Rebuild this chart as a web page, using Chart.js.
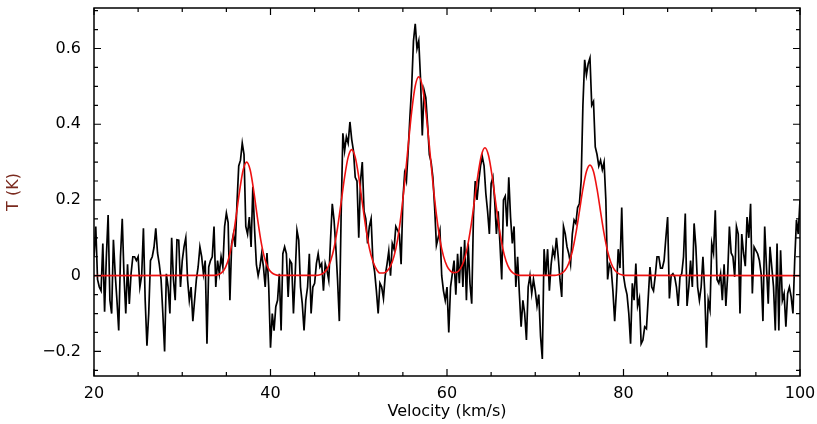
<!DOCTYPE html>
<html>
<head>
<meta charset="utf-8">
<script src="https://cdn.jsdelivr.net/npm/chart.js@4.4.1/dist/chart.umd.min.js"></script>
<style>
  html, body { margin: 0; padding: 0; background: #fff; }
  #wrap { width: 817px; height: 424px; }
</style>
</head>
<body>
<div id="wrap"><canvas id="spec" width="817" height="424"></canvas></div>
<script>
// spectrum channels: velocity of first channel and channel width (km/s)
const v0 = 20;
const dv = 0.2;

// observed brightness temperature per channel (K)
const tSpec = [
  0.05, 0.13, -0.01, -0.03, -0.04, 0.085, -0.095, 0.05, 0.16, -0.065,
  -0.1, 0.095, 0.005, -0.065, -0.145, 0.05, 0.15, 0.0, -0.1, 0.03,
  -0.075, 0.005, 0.05, 0.05, 0.04, 0.05, -0.03, 0.0, 0.125, -0.065,
  -0.185, -0.1, 0.04, 0.05, 0.075, 0.125, 0.06, 0.03, -0.01, -0.1,
  -0.2, 0.005, -0.03, -0.1, 0.1, -0.01, -0.065, 0.095,
  0.094, -0.03, 0.04, 0.076, 0.10, -0.01, -0.065, -0.03, -0.12, -0.065,
  -0.01, 0.023, 0.076, 0.05, 0.005, 0.04, -0.18, 0.023, 0.04, 0.05,
  0.13, -0.03, 0.04, 0.005, 0.05, 0.023, 0.13, 0.165, 0.14, -0.065,
  0.085, 0.11, 0.076, 0.19, 0.29, 0.305, 0.35, 0.32, 0.13, 0.11,
  0.155, 0.076, 0.235, 0.12, 0.03, 0.0, 0.023, 0.058, 0.023, -0.03,
  0.06, -0.03, -0.19, -0.1, -0.145, -0.082, -0.065, 0.005, -0.145, 0.058,
  0.076, 0.058, -0.056, 0.04, 0.032, -0.1, 0.005, 0.12, 0.094, -0.03,
  -0.074, -0.145, -0.065, -0.03, 0.058, -0.1, -0.03, -0.02, 0.032, 0.058,
  0.023, 0.032, -0.04, 0.032, 0.014, -0.012, 0.094, 0.19, 0.147, 0.076,
  -0.012, -0.12, 0.155, 0.376, 0.33, 0.367, 0.35, 0.406, 0.36, 0.33, 0.26,
  0.25, 0.10, 0.25, 0.30, 0.17, 0.15, 0.085, 0.13, 0.15, 0.04,
  0.01, -0.04, -0.10, -0.02, -0.03, -0.06, 0.0, 0.03, 0.065, 0.0,
  0.085, 0.07, 0.13, 0.12, 0.11, 0.03, 0.2, 0.27, 0.25, 0.33,
  0.42, 0.50, 0.62, 0.665, 0.60, 0.62, 0.52, 0.37, 0.49, 0.47,
  0.40, 0.32, 0.30, 0.26, 0.18, 0.08, 0.10, 0.12, 0.0, -0.04,
  -0.065, -0.03, -0.15, -0.03, 0.005, 0.04, -0.05, 0.058, -0.02, 0.076,
  -0.03, 0.094, -0.065, 0.085, -0.02, -0.074, 0.16, 0.25, 0.20, 0.25,
  0.29, 0.314, 0.29, 0.217, 0.17, 0.11, 0.243, 0.26, 0.2, 0.11,
  0.17, 0.085, -0.01, 0.2, 0.21, 0.13, 0.26, 0.155, 0.085, 0.13,
  -0.03, 0.05, -0.047, -0.135, -0.065, -0.1, -0.17, -0.03, 0.0, -0.047,
  -0.01, -0.04, -0.08, -0.05, -0.16, -0.22, 0.07, 0.0, 0.07, -0.04,
  0.03, 0.07, 0.05, 0.1, 0.05, -0.01, -0.056, 0.13, 0.11, 0.076,
  0.058, 0.03, 0.11, 0.147, 0.138, 0.18, 0.19, 0.25, 0.45, 0.57,
  0.53, 0.56, 0.575, 0.45, 0.46, 0.34, 0.32, 0.29, 0.305, 0.28,
  0.30, 0.2, -0.01, 0.03, 0.02, -0.04, -0.12, -0.04, 0.07, 0.02,
  0.18, 0.0, -0.03, -0.05, -0.1, -0.18, -0.02, -0.065, 0.032, -0.08,
  -0.06, -0.18, -0.17, -0.135, -0.14, -0.06, 0.023, -0.03, -0.04, 0.0,
  0.05, 0.05, 0.02, 0.02, 0.04, 0.1, 0.155, -0.06, 0.0, 0.005,
  -0.003, -0.03, -0.08, -0.003, 0.005, 0.05, 0.164, -0.08, -0.03, 0.04,
  -0.03, 0.138, 0.076, -0.03, -0.065, -0.03, 0.05, -0.04, -0.19, -0.065,
  -0.09, 0.085, 0.06, 0.173, -0.01, -0.02, 0.005, -0.065, 0.03, -0.08,
  0.0, 0.13, 0.06, 0.05, -0.003, 0.13, 0.11, -0.1, 0.11, 0.06,
  0.025, 0.155, 0.1, 0.19, -0.047, 0.076, 0.067, 0.058, 0.04, 0.005,
  -0.12, 0.13, 0.023, -0.074, 0.076, 0.023, -0.03, -0.145, 0.085, -0.145,
  0.067, -0.065, -0.047, -0.135, -0.047, -0.03, -0.056, -0.1, 0.04, 0.147,
  0.11, 0.2
];

// gaussian fit (red)
const fitV = [
  20, 33.7, 34.1, 34.5, 34.9, 35.3, 35.7, 36.1, 36.5, 36.9, 37.3, 37.7, 38.1, 38.5, 38.9, 39.3, 39.7, 40.1, 40.5, 40.9,
  45.2, 45.6, 46.0, 46.4, 46.8, 47.2, 47.6, 48.0, 48.4, 48.8, 49.2, 49.6, 50.0, 50.4, 50.8, 51.2, 51.6, 52.0, 52.4,
  52.8, 53.2, 53.6, 54.0, 54.4, 54.8, 55.2, 55.6, 56.0, 56.4, 56.8, 57.2, 57.6, 58.0, 58.4, 58.8, 59.2, 59.6, 60.0, 60.4,
  60.7, 61.1, 61.5, 61.9, 62.3, 62.7, 63.1, 63.5, 63.9, 64.3, 64.7, 65.1, 65.5, 65.9, 66.3, 66.7, 67.1, 67.5, 67.9, 68.3,
  72.2, 72.6, 73.0, 73.4, 73.8, 74.2, 74.6, 75.0, 75.4, 75.8, 76.2, 76.6, 77.0, 77.4, 77.8, 78.2, 78.6, 79.0, 79.4, 79.8, 80.2,
  100
];
const fitT = [
  0, 0.0008, 0.0029, 0.0086, 0.022, 0.049, 0.094, 0.156, 0.224, 0.279, 0.300, 0.279, 0.224, 0.156, 0.094, 0.049, 0.022, 0.0086, 0.0029, 0.0008,
  0.0008, 0.0025, 0.0069, 0.017, 0.038, 0.073, 0.127, 0.193, 0.261, 0.313, 0.333, 0.313, 0.261, 0.193, 0.127, 0.073, 0.038, 0.017, 0.0069,
  0.007, 0.012, 0.0254, 0.0516, 0.0955, 0.161, 0.246, 0.343, 0.434, 0.501, 0.525, 0.501, 0.434, 0.343, 0.246, 0.161, 0.0955, 0.0516, 0.0254, 0.012,
  0.008, 0.009, 0.018, 0.038, 0.074, 0.128, 0.196, 0.265, 0.318, 0.338, 0.318, 0.265, 0.196, 0.128, 0.074, 0.038, 0.017, 0.007, 0.0025, 0.0008,
  0.0007, 0.0022, 0.0061, 0.015, 0.033, 0.064, 0.111, 0.169, 0.229, 0.275, 0.292, 0.275, 0.229, 0.169, 0.111, 0.064, 0.033, 0.015, 0.0061, 0.0022, 0.0007,
  0
];

const xTicks = [20, 40, 60, 80, 100];
const yTicks = [-0.2, 0, 0.2, 0.4, 0.6];
const yTickLabels = ['\u22120.2', '0', '0.2', '0.4', '0.6'];

const specPoints = tSpec.map((t, i) => ({ x: v0 + i * dv, y: t }));
const fitPoints = fitV.map((v, i) => ({ x: v, y: fitT[i] }));

// box round the plot with inward ticks on all four sides
const framePlugin = {
  id: 'frame',
  afterDraw(chart) {
    const { ctx, chartArea: a, scales: { x, y } } = chart;
    ctx.save();
    ctx.strokeStyle = '#000';
    ctx.lineWidth = 1.5;
    ctx.strokeRect(a.left, a.top, a.right - a.left, a.bottom - a.top);
    ctx.beginPath();
    for (let k = 4; k <= 20; k++) {
      const px = x.getPixelForValue(k * 5);
      const len = k % 4 === 0 ? 7 : 4;
      ctx.moveTo(px, a.bottom); ctx.lineTo(px, a.bottom - len);
      ctx.moveTo(px, a.top); ctx.lineTo(px, a.top + len);
    }
    for (let k = -5; k <= 14; k++) {
      const py = y.getPixelForValue(k * 0.05);
      const len = k % 4 === 0 ? 7 : 4;
      ctx.moveTo(a.left, py); ctx.lineTo(a.left + len, py);
      ctx.moveTo(a.right, py); ctx.lineTo(a.right - len, py);
    }
    ctx.lineWidth = 1.2;
    ctx.stroke();
    ctx.restore();
  }
};

const font = { family: 'DejaVu Sans', size: 16 };

new Chart(document.getElementById('spec'), {
  type: 'line',
  data: {
    datasets: [
      {
        label: 'fit',
        data: fitPoints,
        borderColor: '#ee1111',
        borderWidth: 1.6,
        pointRadius: 0,
        cubicInterpolationMode: 'monotone',
        fill: false
      },
      {
        label: 'spectrum',
        data: specPoints,
        borderColor: '#000',
        borderWidth: 1.7,
        pointRadius: 0,
        tension: 0,
        fill: false
      }
    ]
  },
  options: {
    responsive: false,
    animation: false,
    events: [],
    layout: { padding: { top: 8, right: 17, left: 0, bottom: 0 } },
    plugins: { legend: { display: false }, tooltip: { enabled: false } },
    scales: {
      x: {
        type: 'linear',
        min: 20,
        max: 100,
        afterFit: s => { s.height = 48; s.paddingLeft = 0; s.paddingRight = 0; },
        afterBuildTicks: s => { s.ticks = xTicks.map(v => ({ value: v })); },
        grid: { display: false, drawTicks: false },
        border: { display: false },
        ticks: { color: '#000', font: font, padding: 8, maxRotation: 0 },
        title: { display: true, text: 'Velocity (km/s)', color: '#000', font: font, padding: { top: 0, bottom: 3 } }
      },
      y: {
        type: 'linear',
        min: -0.265,
        max: 0.707,
        afterFit: s => { s.width = 94; s.paddingTop = 0; s.paddingBottom = 0; },
        afterBuildTicks: s => { s.ticks = yTicks.map(v => ({ value: v })); },
        grid: { display: false, drawTicks: false },
        border: { display: false },
        ticks: {
          color: '#000',
          font: font,
          padding: 13,
          callback: (val) => yTickLabels[yTicks.findIndex(t => Math.abs(t - val) < 1e-6)]
        },
        title: { display: true, text: 'T (K)', color: '#7a2a1e', font: font, padding: { top: 4, bottom: 0 } }
      }
    }
  },
  plugins: [framePlugin]
});
</script>
</body>
</html>
